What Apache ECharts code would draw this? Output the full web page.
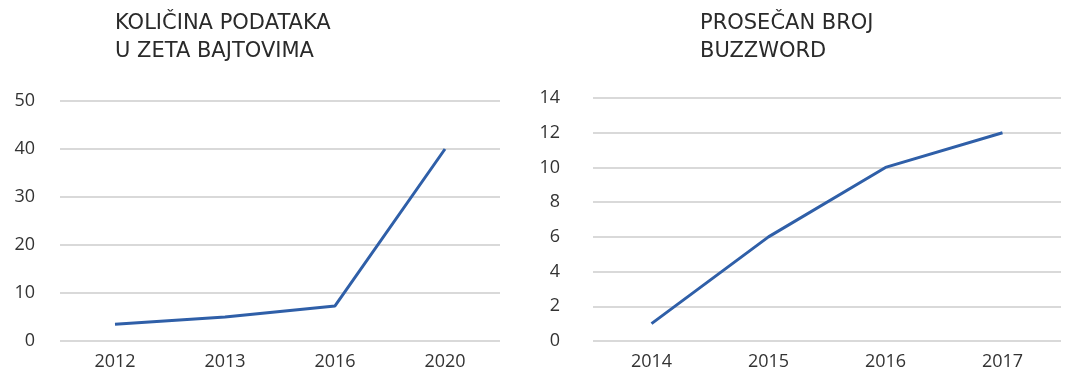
<!DOCTYPE html>
<html>
<head>
<meta charset="utf-8">
<script src="https://cdn.jsdelivr.net/npm/echarts@6/dist/echarts.min.js"></script>
<style>
html,body{margin:0;padding:0;background:#fff;}
#chart{width:1079px;height:383px;}
</style>
</head>
<body>
<div id="chart"></div>
<script>
var leftTitle = 'KOLIČINA PODATAKA\nU ZETA BAJTOVIMA';
var leftCategories = ['2012', '2013', '2016', '2020'];
var leftValues = [3.5, 5, 7.3, 40];

var rightTitle = 'PROSEČAN BROJ\nBUZZWORD';
var rightCategories = ['2014', '2015', '2016', '2017'];
var rightValues = [1, 6, 10, 12];

var chart = echarts.init(document.getElementById('chart'));
var labelStyle = {color: '#333333', fontSize: 18, fontFamily: 'Open Sans'};
var gridLine = {lineStyle: {color: '#d9d9d9', width: 2}};
var titleStyle = {color: '#2a2a2a', fontSize: 21, fontWeight: 'normal', fontFamily: 'DejaVu Sans', lineHeight: 28};

function xAxis(idx, cats) {
  return {
    type: 'category', gridIndex: idx, data: cats, boundaryGap: true,
    axisLine: {show: false}, axisTick: {show: false},
    axisLabel: Object.assign({margin: 12}, labelStyle)
  };
}
function yAxis(idx, max, interval, margin) {
  return {
    type: 'value', gridIndex: idx, min: 0, max: max, interval: interval,
    axisLine: {show: false}, axisTick: {show: false},
    splitLine: gridLine,
    axisLabel: Object.assign({margin: margin}, labelStyle)
  };
}

chart.setOption({
  animation: false,
  title: [
    {text: leftTitle, left: 110, top: 5, textStyle: titleStyle},
    {text: rightTitle, left: 695, top: 5, textStyle: titleStyle}
  ],
  grid: [
    {left: 60, right: 579, top: 101, bottom: 42},
    {left: 593, right: 18, top: 98, bottom: 42}
  ],
  xAxis: [xAxis(0, leftCategories), xAxis(1, rightCategories)],
  yAxis: [yAxis(0, 50, 10, 25), yAxis(1, 14, 2, 33)],
  series: [
    {type: 'line', xAxisIndex: 0, yAxisIndex: 0, data: leftValues, showSymbol: false,
     lineStyle: {color: '#2f5fa8', width: 3}},
    {type: 'line', xAxisIndex: 1, yAxisIndex: 1, data: rightValues, showSymbol: false,
     lineStyle: {color: '#2f5fa8', width: 3}}
  ]
});
</script>
</body>
</html>
